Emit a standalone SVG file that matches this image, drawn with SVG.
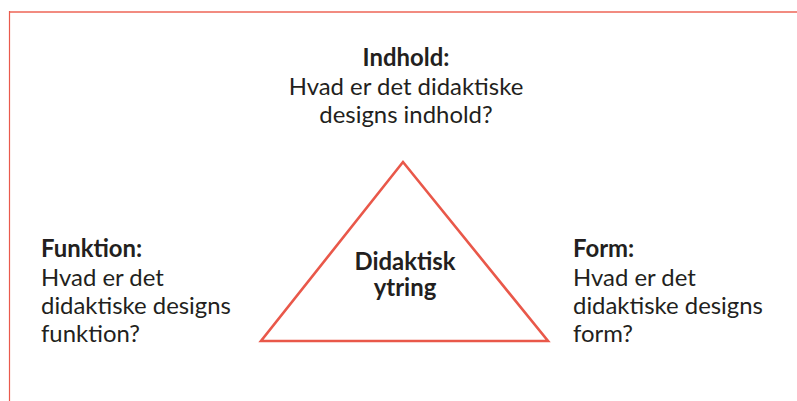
<svg xmlns="http://www.w3.org/2000/svg" width="797" height="401" viewBox="0 0 797 401">
<style>
text{font-family:Lato,"Liberation Sans",sans-serif;font-size:23.9px;fill:#231f20}
.b{font-weight:bold}
.c{text-anchor:middle}
</style>
<rect width="797" height="401" fill="#fff"/>
<g id="frame">
<line x1="9" y1="12" x2="797" y2="12" stroke="#f28b80" stroke-width="2"/>
<line x1="9.5" y1="11" x2="9.5" y2="401" stroke="#ea5a4c" stroke-width="1.2"/>
</g>
<g id="triangle">
<polygon points="403,162 261,341 548,341" fill="none" stroke="#e9584a" stroke-width="2.6" stroke-linejoin="miter"/>
<text class="b c" x="405" y="270">Didaktisk</text>
<text class="b c" x="405" y="296">ytring</text>
</g>
<g id="indhold">
<text class="b c" x="406" y="66">Indhold:</text>
<text class="c" x="406" y="95">Hvad er det didaktiske</text>
<text class="c" x="406" y="123">designs indhold?</text>
</g>
<g id="funktion">
<text class="b" x="41" y="257">Funktion:</text>
<text x="41" y="286">Hvad er det</text>
<text x="41" y="314">didaktiske designs</text>
<text x="41" y="342">funktion?</text>
</g>
<g id="form">
<text class="b" x="573" y="257">Form:</text>
<text x="573" y="286">Hvad er det</text>
<text x="573" y="314">didaktiske designs</text>
<text x="573" y="342">form?</text>
</g>
<g id="connectors"></g>
</svg>
